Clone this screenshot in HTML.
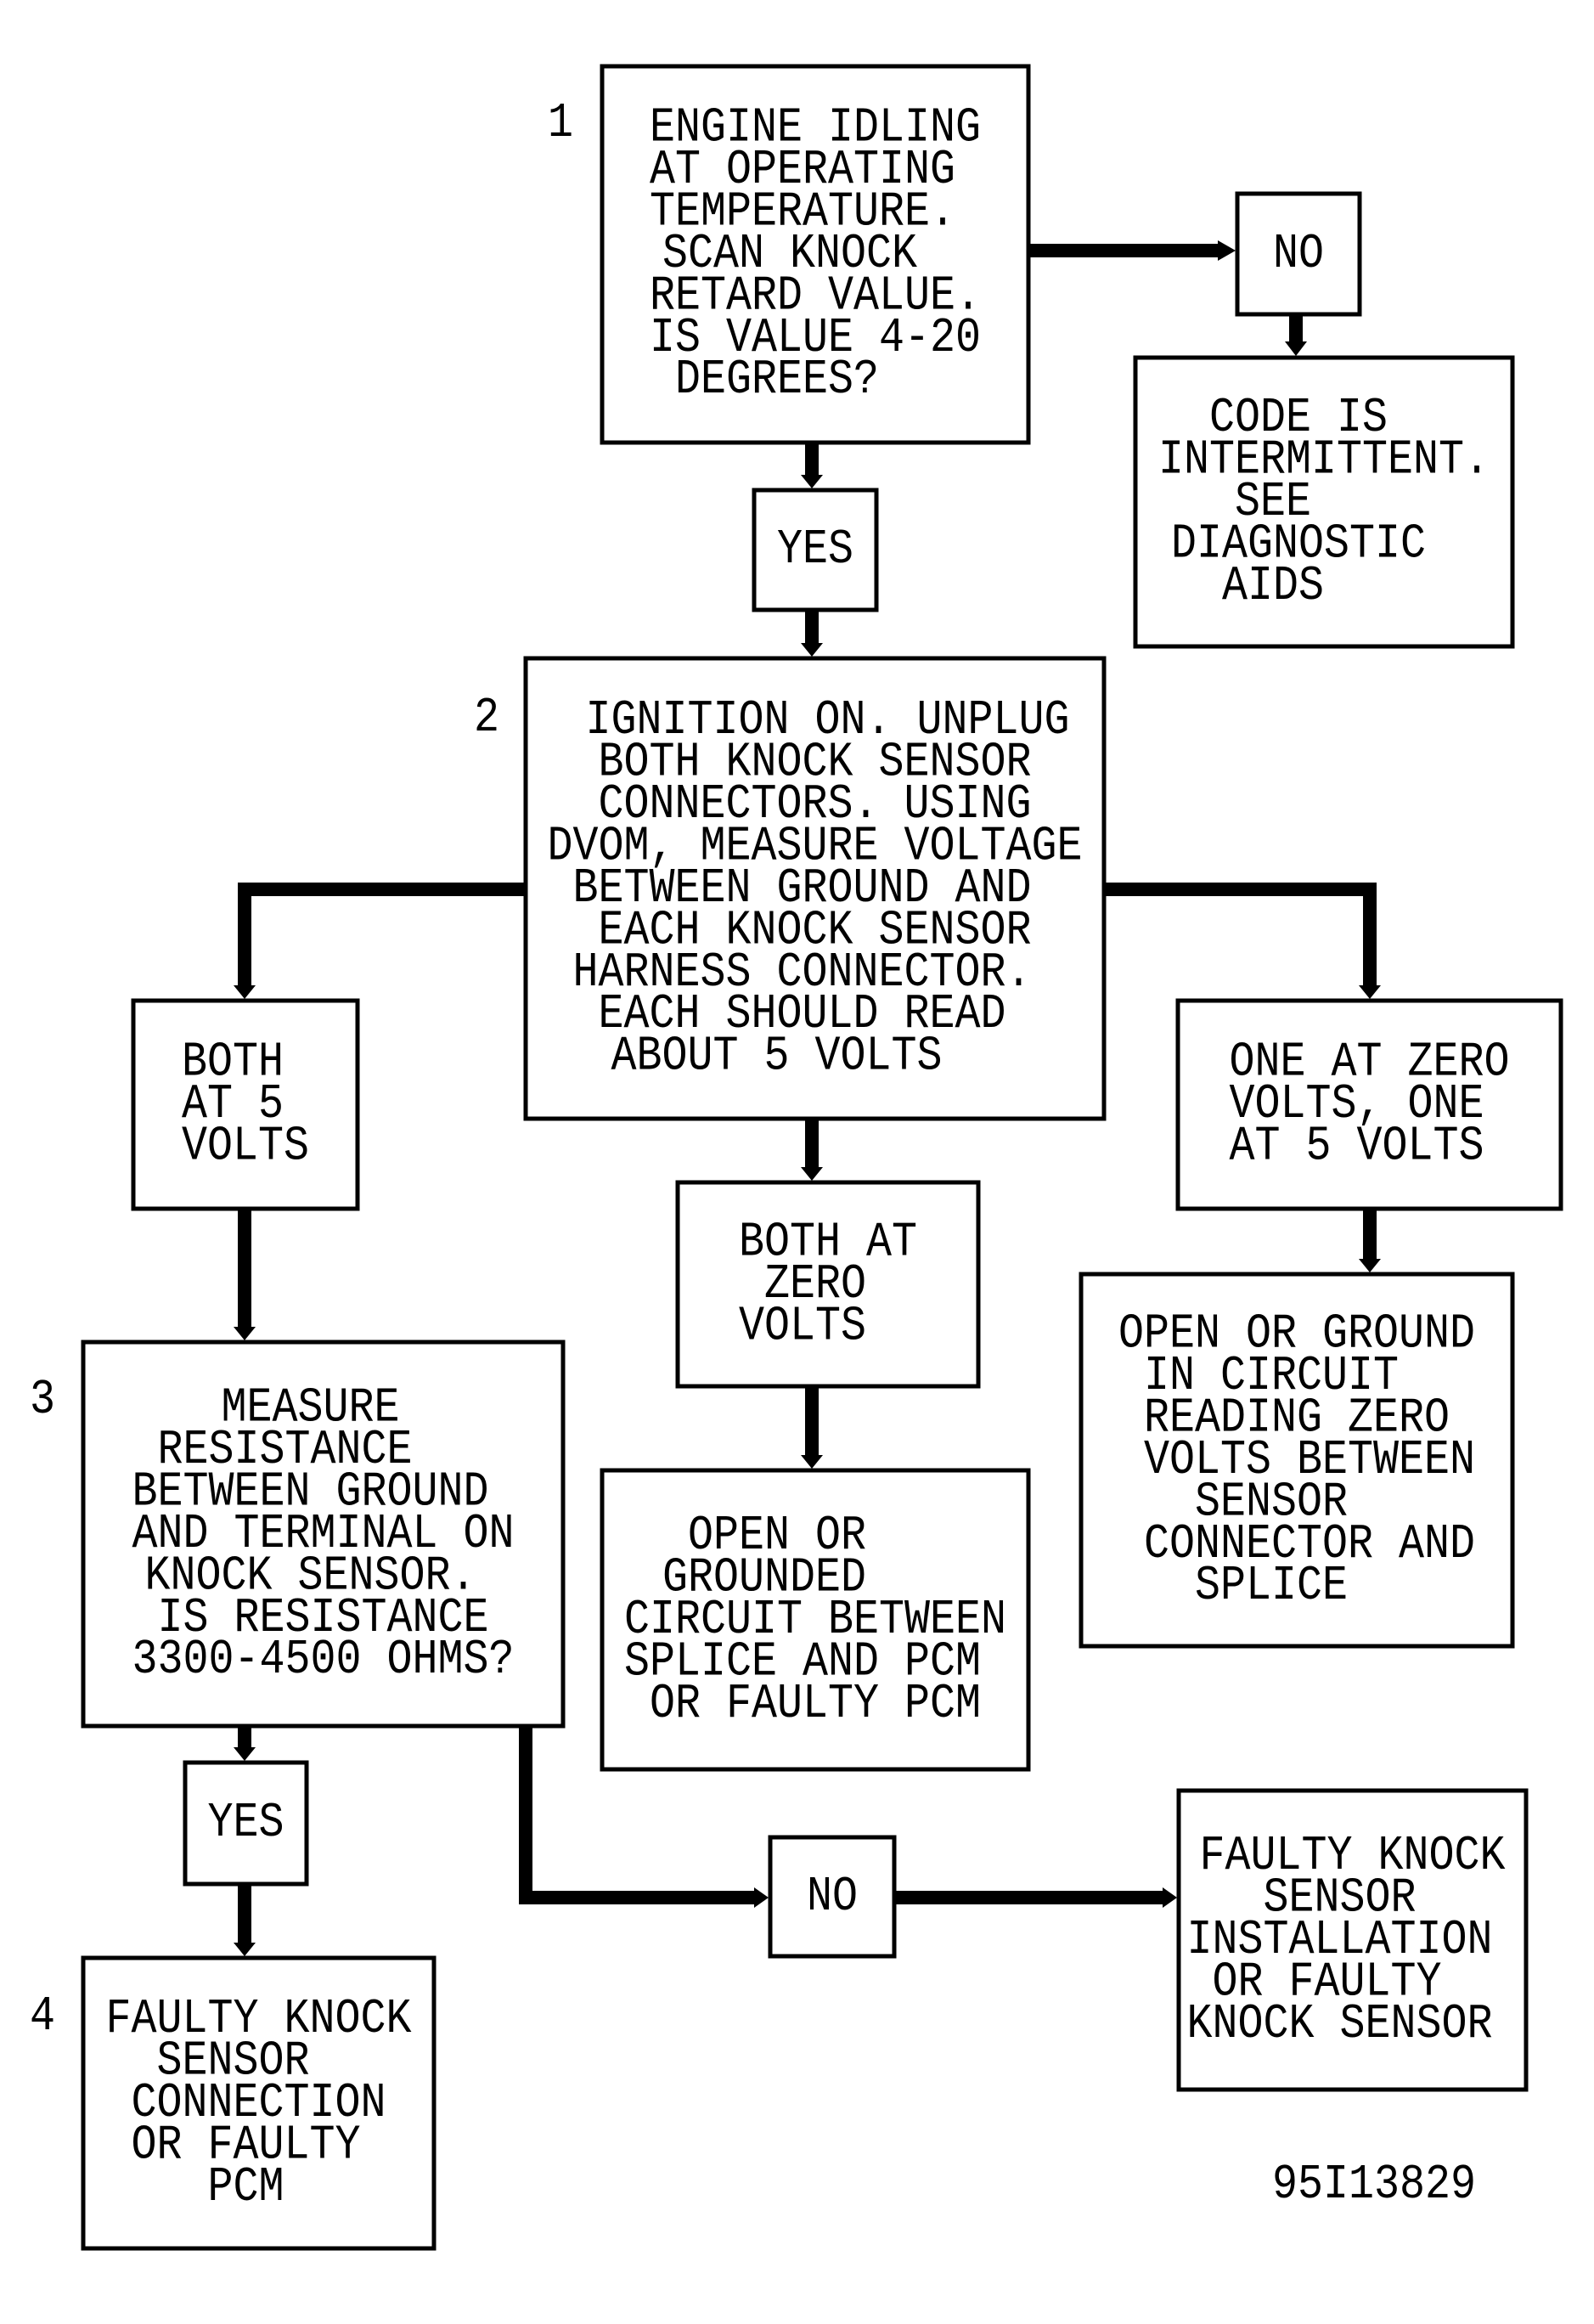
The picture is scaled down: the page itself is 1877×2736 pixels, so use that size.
<!DOCTYPE html>
<html><head><meta charset="utf-8"><style>
html,body{margin:0;padding:0;background:#fff;}
#c{position:relative;width:1877px;height:2736px;overflow:hidden;background:#fff;}
svg{position:absolute;left:0;top:0;}
.t{position:absolute;display:flex;align-items:center;justify-content:center;}
.t span{display:block;white-space:pre;font-family:"Liberation Mono",monospace;font-size:50px;line-height:43px;color:#000;text-align:center;transform:scaleY(1.15);}
.l span{text-align:left;}
</style></head><body><div id="c">
<svg width="1877" height="2736" viewBox="0 0 1877 2736">
<g fill="none" stroke="#000" stroke-width="5">
<rect x="709" y="78" width="502" height="443"/>
<rect x="1457" y="228" width="144" height="142"/>
<rect x="1337" y="421" width="444" height="340"/>
<rect x="888" y="577" width="144" height="141"/>
<rect x="619" y="775" width="681" height="542"/>
<rect x="157" y="1178" width="264" height="245"/>
<rect x="1387" y="1178" width="451" height="245"/>
<rect x="798" y="1392" width="354" height="240"/>
<rect x="98" y="1580" width="565" height="452"/>
<rect x="709" y="1731" width="502" height="352"/>
<rect x="1273" y="1500" width="508" height="438"/>
<rect x="218" y="2075" width="143" height="143"/>
<rect x="907" y="2163" width="146" height="140"/>
<rect x="1388" y="2108" width="409" height="352"/>
<rect x="98" y="2305" width="413" height="342"/>
</g>
<g stroke="#000" stroke-width="16" fill="none" stroke-linecap="butt" stroke-linejoin="miter">
<polyline points="1211,295 1436,295"/>
<polyline points="1526,370 1526,404"/>
<polyline points="956,521 956,561"/>
<polyline points="956,718 956,759"/>
<polyline points="619,1047 288,1047 288,1162"/>
<polyline points="1300,1047 1613,1047 1613,1162"/>
<polyline points="956,1317 956,1376"/>
<polyline points="956,1632 956,1715"/>
<polyline points="288,1423 288,1564"/>
<polyline points="1613,1423 1613,1484"/>
<polyline points="288,2032 288,2059"/>
<polyline points="288,2218 288,2289"/>
<polyline points="619,2032 619,2234 890,2234"/>
<polyline points="1053,2234 1371,2234"/>
</g>
<g fill="#000">
<polygon points="1434,283 1434,307 1455,295"/>
<polygon points="1513,402 1539,402 1526,419"/>
<polygon points="943,559 969,559 956,575"/>
<polygon points="943,757 969,757 956,773"/>
<polygon points="275,1160 301,1160 288,1176"/>
<polygon points="1600,1160 1626,1160 1613,1176"/>
<polygon points="943,1374 969,1374 956,1390"/>
<polygon points="943,1713 969,1713 956,1729"/>
<polygon points="275,1562 301,1562 288,1578"/>
<polygon points="1600,1482 1626,1482 1613,1498"/>
<polygon points="275,2057 301,2057 288,2073"/>
<polygon points="275,2287 301,2287 288,2303"/>
<polygon points="888,2222 888,2246 905,2234"/>
<polygon points="1369,2222 1369,2246 1386,2234"/>
</g>
</svg>
<div class="t" style="left:630px;top:120px;width:60px;height:50px"><span>1</span></div>
<div class="t" style="left:543px;top:820px;width:60px;height:50px"><span>2</span></div>
<div class="t" style="left:20px;top:1623px;width:60px;height:50px"><span>3</span></div>
<div class="t" style="left:20px;top:2349px;width:60px;height:50px"><span>4</span></div>
<div class="t" style="left:709px;top:78px;width:502px;height:443px"><span>ENGINE IDLING
AT OPERATING 
TEMPERATURE. 
SCAN KNOCK  
RETARD VALUE.
IS VALUE 4-20
 DEGREES?    </span></div>
<div class="t" style="left:1457px;top:228px;width:144px;height:142px"><span>NO</span></div>
<div class="t" style="left:1337px;top:421px;width:444px;height:340px"><span>CODE IS  
INTERMITTENT.
SEE    
DIAGNOSTIC  
AIDS    </span></div>
<div class="t" style="left:888px;top:577px;width:144px;height:141px"><span>YES</span></div>
<div class="t" style="left:619px;top:775px;width:681px;height:542px"><span> IGNITION ON. UNPLUG
 BOTH KNOCK SENSOR 
 CONNECTORS. USING 
DVOM, MEASURE VOLTAGE
BETWEEN GROUND AND 
 EACH KNOCK SENSOR 
HARNESS CONNECTOR. 
 EACH SHOULD READ  
 ABOUT 5 VOLTS    </span></div>
<div class="t l" style="left:157px;top:1178px;width:264px;height:245px"><span>BOTH 
AT 5 
VOLTS</span></div>
<div class="t" style="left:1387px;top:1178px;width:451px;height:245px"><span>ONE AT ZERO
VOLTS, ONE 
AT 5 VOLTS </span></div>
<div class="t" style="left:798px;top:1392px;width:354px;height:240px"><span>BOTH AT
 ZERO  
VOLTS  </span></div>
<div class="t" style="left:98px;top:1580px;width:565px;height:452px"><span>   MEASURE    
 RESISTANCE    
BETWEEN GROUND 
AND TERMINAL ON
 KNOCK SENSOR.  
 IS RESISTANCE 
3300-4500 OHMS?</span></div>
<div class="t" style="left:709px;top:1731px;width:502px;height:352px"><span>  OPEN OR     
 GROUNDED     
CIRCUIT BETWEEN
SPLICE AND PCM 
 OR FAULTY PCM </span></div>
<div class="t" style="left:1273px;top:1500px;width:508px;height:438px"><span>OPEN OR GROUND
 IN CIRCUIT   
 READING ZERO 
 VOLTS BETWEEN
   SENSOR     
 CONNECTOR AND
   SPLICE     </span></div>
<div class="t" style="left:218px;top:2075px;width:143px;height:143px"><span>YES</span></div>
<div class="t" style="left:907px;top:2163px;width:146px;height:140px"><span>NO</span></div>
<div class="t" style="left:1388px;top:2108px;width:409px;height:352px"><span>FAULTY KNOCK
   SENSOR    
INSTALLATION 
 OR FAULTY   
KNOCK SENSOR </span></div>
<div class="t" style="left:98px;top:2305px;width:413px;height:342px"><span>FAULTY KNOCK
  SENSOR    
 CONNECTION 
 OR FAULTY  
    PCM     </span></div>
<div class="t" style="left:1478px;top:2545px;width:280px;height:55px"><span>95I13829</span></div>
</div></body></html>
